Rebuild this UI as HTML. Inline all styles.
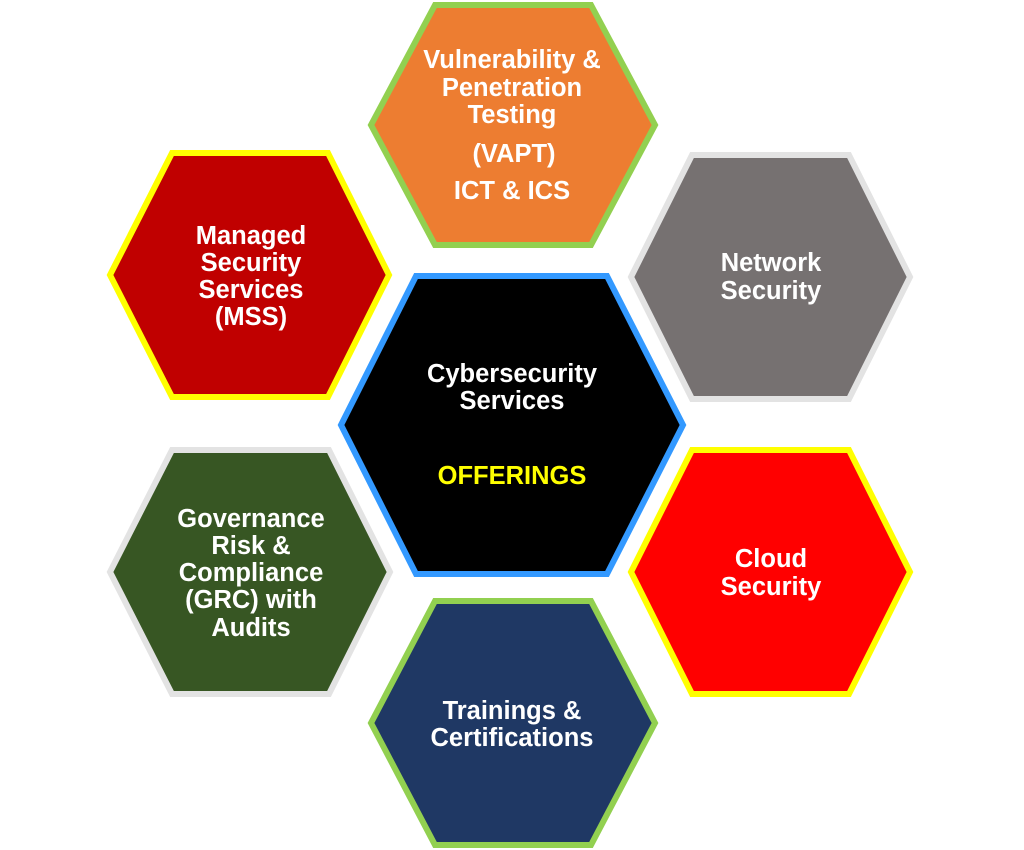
<!DOCTYPE html>
<html><head><meta charset="utf-8"><style>
html,body{margin:0;padding:0;background:#fff;width:1024px;height:850px;overflow:hidden}
svg text{font-family:"Liberation Sans",Arial,sans-serif;font-weight:bold;font-size:25.5px;fill:#fff;text-anchor:middle}
</style></head><body>
<svg width="1024" height="850" viewBox="0 0 1024 850" xmlns="http://www.w3.org/2000/svg">
<g stroke-width="6" stroke-linejoin="miter">
<polygon points="371,125 435,5 591,5 655,125 591,245 435,245" fill="#ED7D31" stroke="#92D050"/>
<polygon points="110,275 172,153 328,153 389,275 328,397 172,397" fill="#C00000" stroke="#FFFF00"/>
<polygon points="631,277 692,155 849,155 910,277 849,399 692,399" fill="#767171" stroke="#E3E3E3"/>
<polygon points="341,425 416,276 607,276 683,425 607,574 416,574" fill="#000000" stroke="#3399FF"/>
<polygon points="110,572 172,450 329,450 390,572 329,694 172,694" fill="#375623" stroke="#E3E3E3"/>
<polygon points="631,572 692,450 849,450 910,572 849,694 692,694" fill="#FF0000" stroke="#FFFF00"/>
<polygon points="371,723 435,601 591,601 655,723 591,845 435,845" fill="#1F3864" stroke="#92D050"/>
</g>
<text x="512" y="68">Vulnerability &amp;</text>
<text x="512" y="96">Penetration</text>
<text x="512" y="123">Testing</text>
<text x="514" y="162">(VAPT)</text>
<text x="512" y="199">ICT &amp; ICS</text>
<text x="251" y="244">Managed</text>
<text x="251" y="271">Security</text>
<text x="251" y="298">Services</text>
<text x="251" y="325">(MSS)</text>
<text x="771" y="271">Network</text>
<text x="771" y="299">Security</text>
<text x="512" y="382">Cybersecurity</text>
<text x="512" y="409">Services</text>
<text x="512" y="484" style="fill:#FFFF00">OFFERINGS</text>
<text x="251" y="527">Governance</text>
<text x="251" y="554">Risk &amp;</text>
<text x="251" y="581">Compliance</text>
<text x="251" y="608">(GRC) with</text>
<text x="251" y="636">Audits</text>
<text x="771" y="567">Cloud</text>
<text x="771" y="595">Security</text>
<text x="512" y="719">Trainings &amp;</text>
<text x="512" y="746">Certifications</text>
</svg>
</body></html>
